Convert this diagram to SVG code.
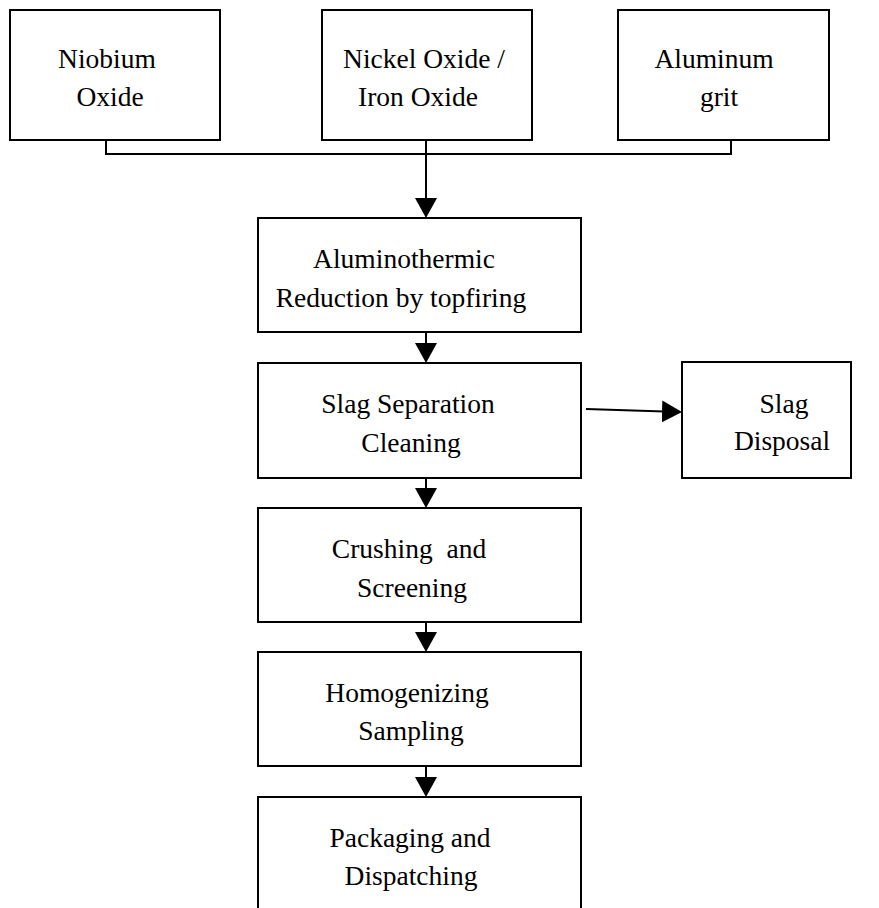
<svg xmlns="http://www.w3.org/2000/svg" width="879" height="908" viewBox="0 0 879 908">
<style>
.box{fill:#fff;stroke:#000;stroke-width:2}
.t{font-family:"Liberation Serif","Times New Roman",serif;font-size:27.5px;fill:#000;text-anchor:middle}
.c{fill:none;stroke:#000;stroke-width:2}
</style>
<defs>
<marker id="ah" viewBox="0 0 20 22" refX="18" refY="11" markerWidth="20" markerHeight="22" markerUnits="userSpaceOnUse" orient="auto">
<path d="M0,0 L20,11 L0,22 Z" fill="#000"/>
</marker>
</defs>
<rect width="879" height="908" fill="#fff"/>
<g id="connectors">
<path class="c" d="M106,140 V154 H731 V140"/>
<path class="c" d="M426,140 V216" marker-end="url(#ah)"/>
<path class="c" d="M426,332 V361" marker-end="url(#ah)"/>
<path class="c" d="M426,478 V506" marker-end="url(#ah)"/>
<path class="c" d="M426,622 V650" marker-end="url(#ah)"/>
<path class="c" d="M426,766 V795" marker-end="url(#ah)"/>
<path class="c" d="M586,409 L680,412" marker-end="url(#ah)"/>
</g>
<g id="niobium-oxide">
<rect class="box" x="10" y="10" width="210" height="130"/>
<text class="t" x="107" y="68">Niobium</text>
<text class="t" x="110" y="106">Oxide</text>
</g>
<g id="nickel-iron-oxide">
<rect class="box" x="322" y="10" width="210" height="130"/>
<text class="t" x="424" y="68">Nickel Oxide /</text>
<text class="t" x="418" y="106">Iron Oxide</text>
</g>
<g id="aluminum-grit">
<rect class="box" x="618" y="10" width="211" height="130"/>
<text class="t" x="714" y="68">Aluminum</text>
<text class="t" x="719" y="106">grit</text>
</g>
<g id="reduction">
<rect class="box" x="258" y="218" width="323" height="114"/>
<text class="t" x="404" y="268">Aluminothermic</text>
<text class="t" x="401" y="307">Reduction by topfiring</text>
</g>
<g id="slag-separation">
<rect class="box" x="258" y="363" width="323" height="115"/>
<text class="t" x="408" y="413">Slag Separation</text>
<text class="t" x="411" y="452">Cleaning</text>
</g>
<g id="slag-disposal">
<rect class="box" x="682" y="362" width="169" height="116"/>
<text class="t" x="784" y="413">Slag</text>
<text class="t" x="782" y="450">Disposal</text>
</g>
<g id="crushing">
<rect class="box" x="258" y="508" width="323" height="114"/>
<text class="t" x="409" y="558" xml:space="preserve">Crushing  and</text>
<text class="t" x="412" y="597">Screening</text>
</g>
<g id="homogenizing">
<rect class="box" x="258" y="652" width="323" height="114"/>
<text class="t" x="407" y="702">Homogenizing</text>
<text class="t" x="411" y="740">Sampling</text>
</g>
<g id="packaging">
<rect class="box" x="258" y="797" width="323" height="130"/>
<text class="t" x="410" y="847">Packaging and</text>
<text class="t" x="411" y="885">Dispatching</text>
</g>
</svg>
